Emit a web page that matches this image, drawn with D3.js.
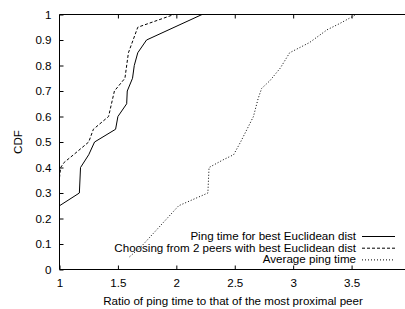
<!DOCTYPE html>
<html>
<head>
<meta charset="utf-8">
<script src="https://cdn.jsdelivr.net/npm/d3@7"></script>
<style>
  body { margin: 0; background: #fff; }
  svg { display: block; font-family: "Liberation Sans", Arial, sans-serif; }
</style>
</head>
<body>
<svg width="405" height="309"></svg>
<script>
// CDF curves, [ratio, cdf]
const bestEuclid = [[1,0.25],[1.17,0.30],[1.18,0.40],[1.25,0.45],[1.30,0.50],[1.48,0.55],[1.50,0.60],
  [1.575,0.65],[1.58,0.70],[1.625,0.75],[1.64,0.80],[1.67,0.85],[1.745,0.90],[2.22,1.0]];
const twoPeers = [[1,0.36],[1.01,0.40],[1.04,0.42],[1.12,0.45],[1.25,0.50],[1.29,0.55],[1.42,0.60],
  [1.47,0.70],[1.56,0.75],[1.59,0.85],[1.67,0.95],[1.98,1.0]];
const avgPing = [[1.60,0.05],[1.70,0.09],[1.80,0.14],[1.92,0.20],[2.02,0.25],[2.27,0.30],[2.28,0.40],
  [2.40,0.43],[2.49,0.45],[2.55,0.50],[2.66,0.60],[2.70,0.67],[2.73,0.71],[2.80,0.74],[2.89,0.79],
  [2.97,0.85],[3.14,0.89],[3.29,0.94],[3.40,0.965],[3.50,0.99],[3.54,1.0]];

const xTicks = [1, 1.5, 2, 2.5, 3, 3.5];
const yTicks = [0, 0.1, 0.2, 0.3, 0.4, 0.5, 0.6, 0.7, 0.8, 0.9, 1];

const series = [
  { name: 'Ping time for best Euclidean dist', data: bestEuclid, dash: null },
  { name: 'Choosing from 2 peers with best Euclidean dist', data: twoPeers, dash: '3,2' },
  { name: 'Average ping time', data: avgPing, dash: '1,2' }
];

const fs = 11.6;
const svg = d3.select('svg');
const mLeft = 59.5, mRight = 410, mTop = 14.5, mBottom = 269.5;

const x = d3.scaleLinear().domain([1, 4]).range([mLeft, mRight]);
const y = d3.scaleLinear().domain([0, 1]).range([mBottom, mTop]);

// frame
svg.append('path')
  .attr('d', `M${mLeft},${mTop}H${mRight}M${mLeft},${mTop}V${mBottom}H${mRight}`)
  .attr('fill', 'none').attr('stroke', '#000').attr('stroke-width', 1);

// axes with inner ticks
const xAxis = svg.append('g').attr('transform', `translate(0,${mBottom})`)
  .call(d3.axisBottom(x).tickValues(xTicks).tickSize(-4).tickPadding(9).tickFormat(d3.format('')));
const xTop = svg.append('g').attr('transform', `translate(0,${mTop})`)
  .call(d3.axisTop(x).tickValues(xTicks.slice(1)).tickSize(-4).tickFormat(''));
const yAxis = svg.append('g').attr('transform', `translate(${mLeft},0)`)
  .call(d3.axisLeft(y).tickValues(yTicks).tickSize(-4).tickPadding(8).tickFormat(d3.format('')));

[xAxis, xTop, yAxis].forEach(g => {
  g.select('.domain').remove();
  g.selectAll('text').attr('font-size', fs).attr('fill', '#000')
    .attr('font-family', '"Liberation Sans", Arial, sans-serif');
  g.selectAll('line').attr('stroke', '#000');
});

// axis titles
svg.append('text').attr('x', 233).attr('y', 305).attr('text-anchor', 'middle')
  .attr('font-size', fs).text('Ratio of ping time to that of the most proximal peer');
svg.append('text').attr('transform', 'translate(22,142) rotate(-90)').attr('text-anchor', 'middle')
  .attr('font-size', fs).text('CDF');

// curves
const line = d3.line().x(d => x(d[0])).y(d => y(d[1]));
svg.selectAll('.curve').data(series).enter().append('path')
  .attr('class', 'curve')
  .attr('d', d => line(d.data))
  .attr('fill', 'none').attr('stroke', '#000').attr('stroke-width', 1)
  .attr('stroke-dasharray', d => d.dash);

// legend
const legend = svg.selectAll('.leg').data(series).enter().append('g')
  .attr('class', 'leg')
  .attr('transform', (d, i) => `translate(0,${236 + i * 11.7})`);
legend.append('text').attr('x', 356).attr('y', 4).attr('text-anchor', 'end')
  .attr('font-size', fs).text(d => d.name);
legend.append('line').attr('x1', 362).attr('x2', 395).attr('y1', 0.5).attr('y2', 0.5)
  .attr('stroke', '#000').attr('stroke-width', 1)
  .attr('stroke-dasharray', d => d.dash);
</script>
</body>
</html>
